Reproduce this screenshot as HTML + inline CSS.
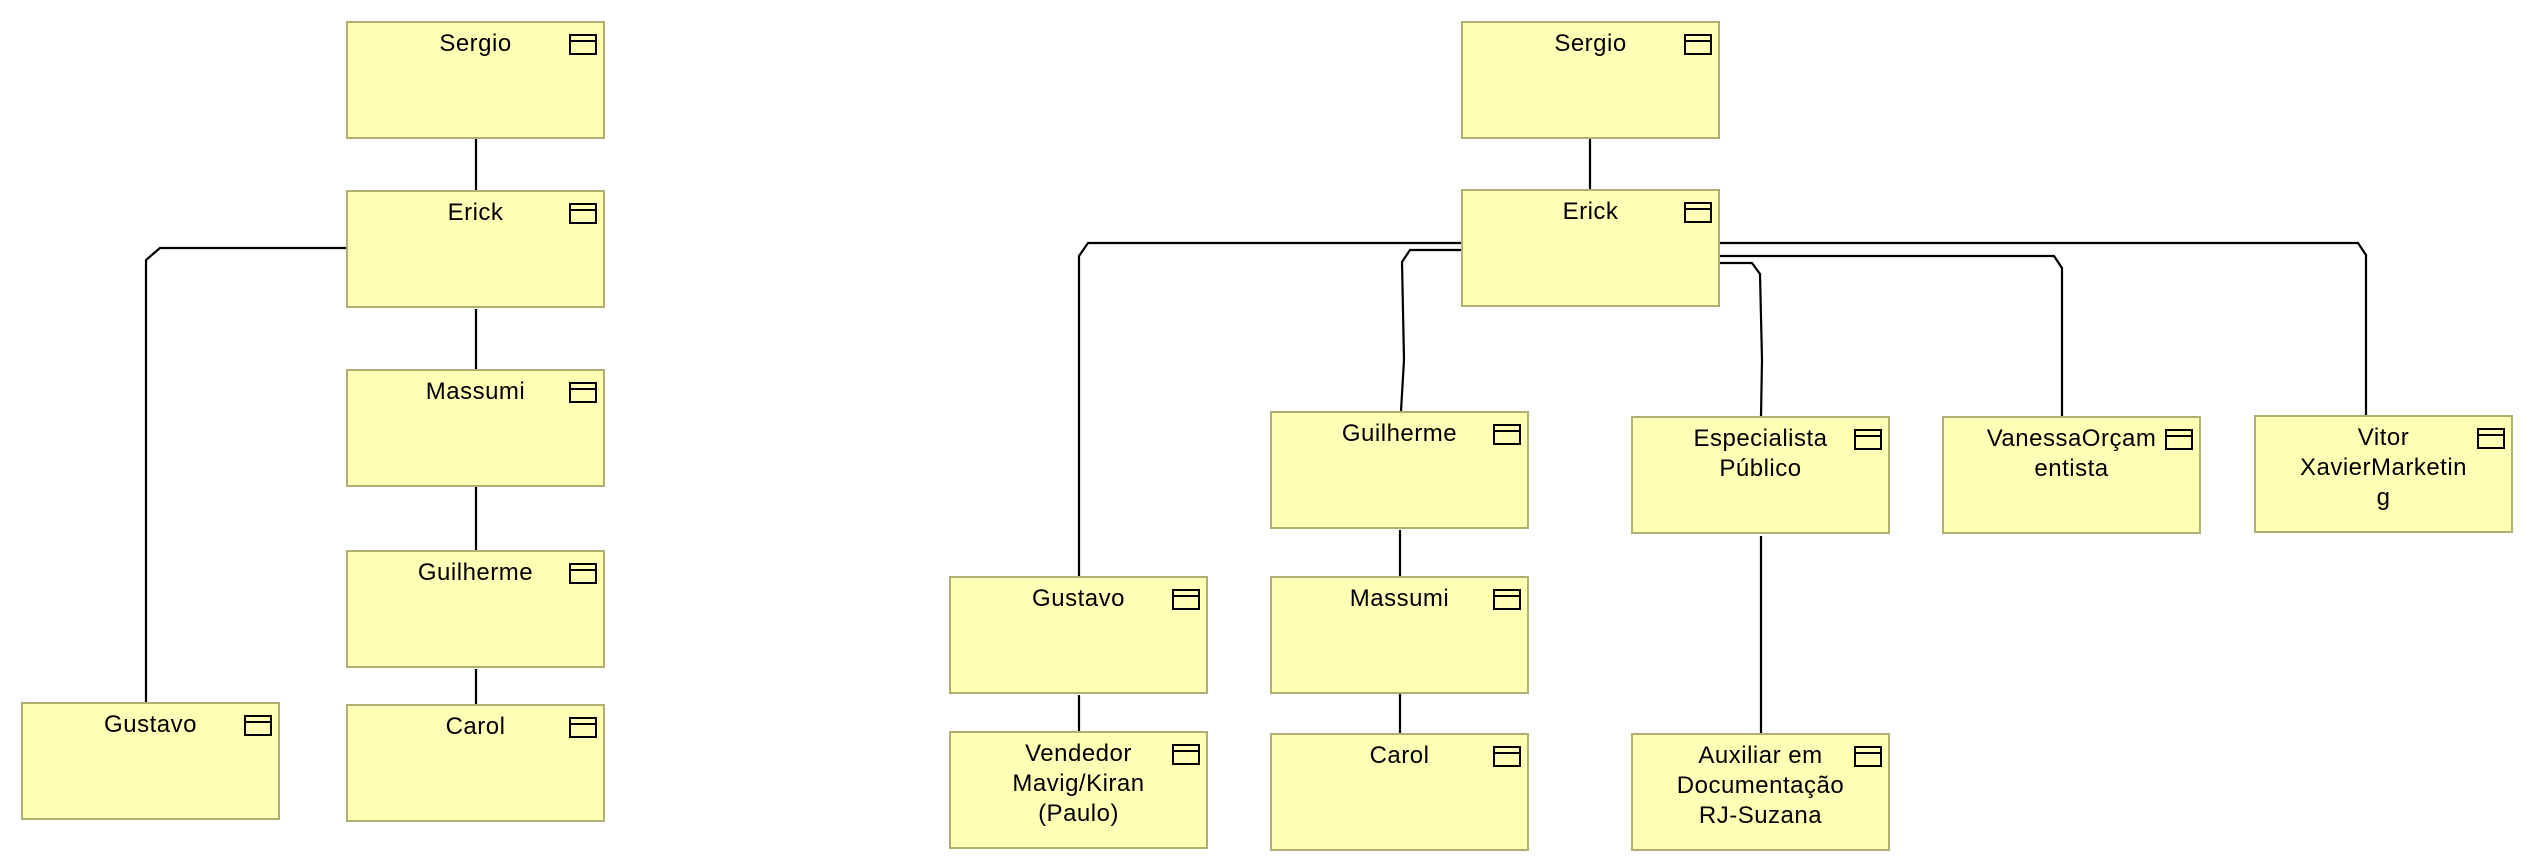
<!DOCTYPE html>
<html><head><meta charset="utf-8"><style>
html,body{margin:0;padding:0;background:#fff;width:2534px;height:866px;overflow:hidden;position:relative}
.b{position:absolute;width:255px;height:114px;background:#ffffb5;border:2px solid #b1ae72;font-family:"Liberation Sans","DejaVu Sans",sans-serif;font-size:24px;line-height:30px;letter-spacing:0.5px;color:#000;text-align:center;box-sizing:content-box}
.b .t{position:absolute;left:0;right:0;top:6px}
.b .i{position:absolute;right:6px;top:11px;width:24px;height:17px;border:2px solid #000}
.b .i:after{content:"";position:absolute;left:0;right:0;top:4px;border-top:2px solid #000}
svg{position:absolute;left:0;top:0}
</style></head><body>
<svg width="2534" height="866" fill="none" stroke="#000" stroke-width="2.2">
<path d="M476 139V190M476 309V369M476 484V550M476 669V704"/>
<path d="M346 248H160L146 260V702"/>
<path d="M1590 139V189"/>
<path d="M1461 243H1088L1079 256V576"/>
<path d="M1461 250H1410L1402 262L1404 360L1401 411"/>
<path d="M1719 263H1752L1760 274L1762 360L1761 416"/>
<path d="M1719 256H2054L2062 268V416"/>
<path d="M1719 243H2358L2366 255V415"/>
<path d="M1079 695V731M1400 530V576M1400 691V733M1761 536V733"/>
</svg>
<div class="b" style="left:346px;top:21px"><div class="t">Sergio</div><div class="i"></div></div>
<div class="b" style="left:346px;top:190px"><div class="t">Erick</div><div class="i"></div></div>
<div class="b" style="left:346px;top:369px"><div class="t">Massumi</div><div class="i"></div></div>
<div class="b" style="left:346px;top:550px"><div class="t">Guilherme</div><div class="i"></div></div>
<div class="b" style="left:346px;top:704px"><div class="t">Carol</div><div class="i"></div></div>
<div class="b" style="left:21px;top:702px"><div class="t">Gustavo</div><div class="i"></div></div>

<div class="b" style="left:1461px;top:21px"><div class="t">Sergio</div><div class="i"></div></div>
<div class="b" style="left:1461px;top:189px"><div class="t">Erick</div><div class="i"></div></div>
<div class="b" style="left:1270px;top:411px"><div class="t">Guilherme</div><div class="i"></div></div>
<div class="b" style="left:1270px;top:576px"><div class="t">Massumi</div><div class="i"></div></div>
<div class="b" style="left:1270px;top:733px"><div class="t">Carol</div><div class="i"></div></div>
<div class="b" style="left:949px;top:576px"><div class="t">Gustavo</div><div class="i"></div></div>
<div class="b" style="left:949px;top:731px"><div class="t">Vendedor<br>Mavig/Kiran<br>(Paulo)</div><div class="i"></div></div>
<div class="b" style="left:1631px;top:416px"><div class="t">Especialista<br>Público</div><div class="i"></div></div>
<div class="b" style="left:1942px;top:416px"><div class="t">VanessaOrçam<br>entista</div><div class="i"></div></div>
<div class="b" style="left:2254px;top:415px"><div class="t">Vitor<br>XavierMarketin<br>g</div><div class="i"></div></div>
<div class="b" style="left:1631px;top:733px"><div class="t">Auxiliar em<br>Documentação<br>RJ-Suzana</div><div class="i"></div></div>
</body></html>
